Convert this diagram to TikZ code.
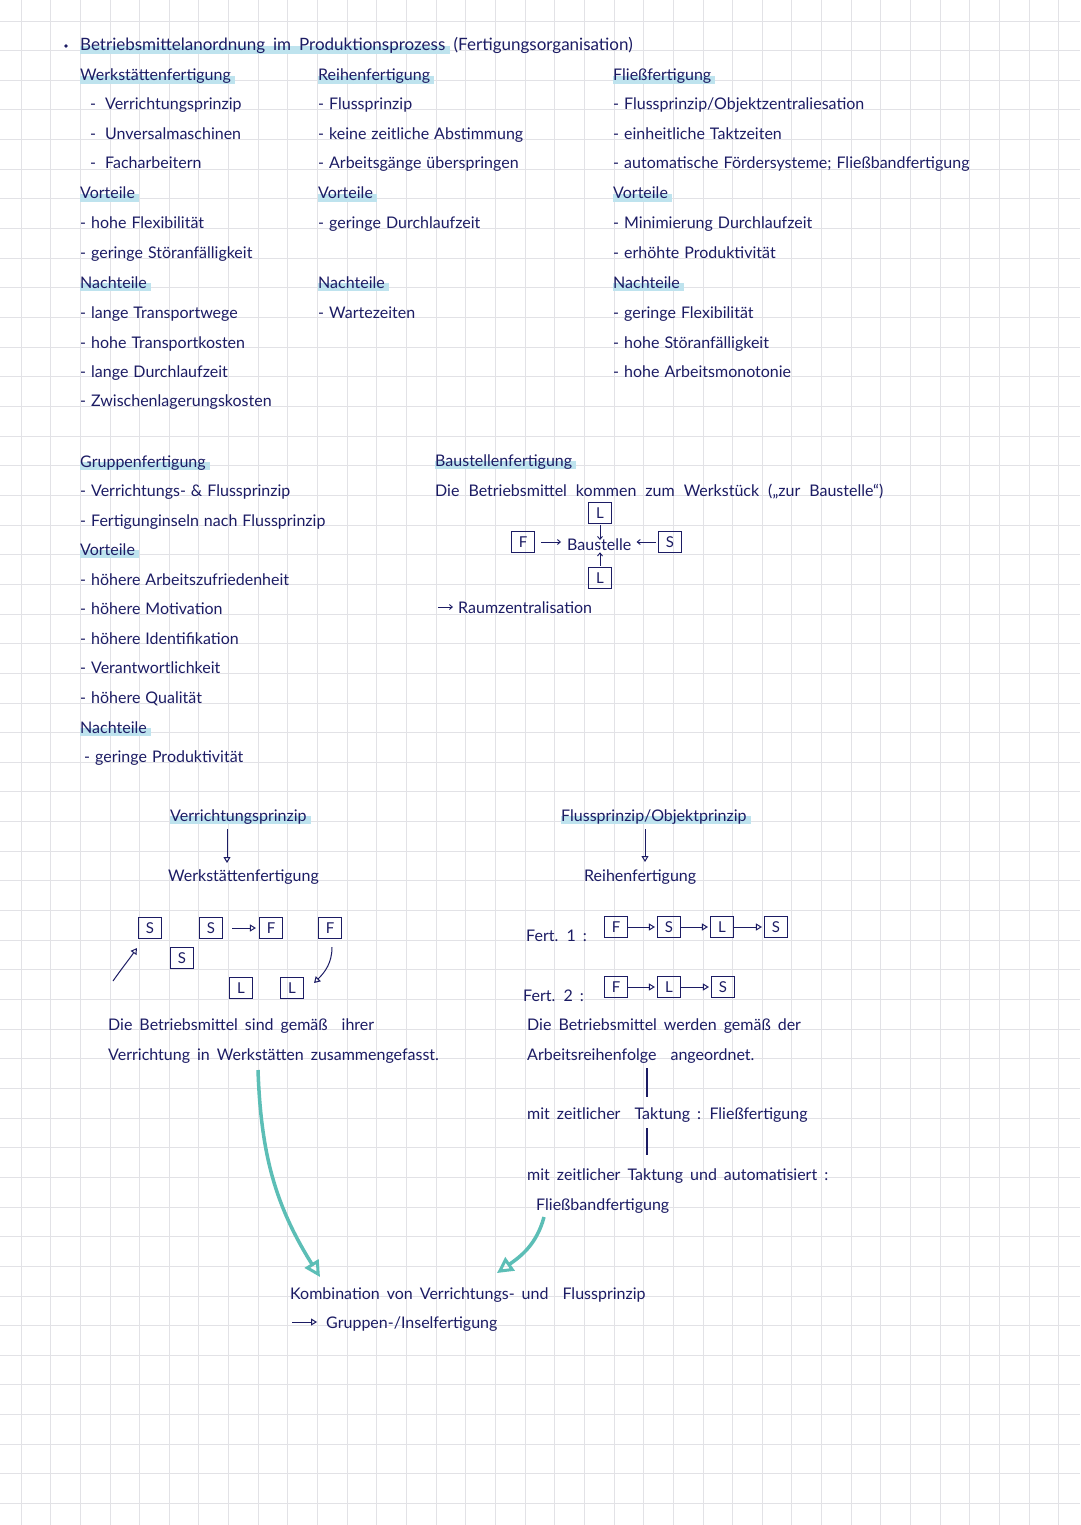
\documentclass[tikz,border=0pt]{standalone}
\usepackage{fontspec}
\setmainfont{Lato}
\usetikzlibrary{arrows.meta,backgrounds}
\definecolor{ink}{RGB}{28,28,100}
\definecolor{gridc}{RGB}{226,226,230}
\definecolor{hlc}{RGB}{190,227,238}
\definecolor{tealc}{RGB}{92,190,182}
\newcommand{\fs}{\fontsize{16}{19}\selectfont\spaceskip=5pt plus 1pt minus 1pt\relax}
\newcommand{\fsd}{\fontsize{16}{19}\selectfont\spaceskip=7pt plus 1pt minus 1pt\relax}
\newcommand{\fst}{\fontsize{17}{20}\selectfont\spaceskip=8pt plus 1pt minus 1pt\relax}
\newcommand{\fsb}{\fontsize{16}{19}\selectfont\spaceskip=9pt plus 1pt minus 1pt\relax}
\newcommand{\hlbar}[1]{\fill[hlc] ([yshift=-3pt]#1.base west) rectangle ([xshift=4pt,yshift=5pt]#1.base east);}
\begin{document}
\begin{tikzpicture}[x=1pt,y=-1pt,
  txt/.style={anchor=base west, inner sep=0pt, text=ink, font=\fs},
  dtxt/.style={anchor=base west, inner sep=0pt, text=ink, font=\fsd},
  mbox/.style={draw=ink, line width=1.1pt, minimum width=23pt, minimum height=21pt, inner sep=0pt, text=ink, font=\fontsize{15}{17}\selectfont},
  flow/.style={draw=ink, line width=1pt, -{Triangle[open, length=6pt, width=7pt]}},
  small/.style={draw=ink, line width=0.9pt, -{Straight Barb[length=3pt,width=5pt]}},
  plain/.style={draw=ink, line width=1.1pt},
  tealarrow/.style={draw=tealc, line width=3.5pt, -{Triangle[open, length=16pt, width=16pt, line width=3pt]}}
]
\useasboundingbox (0,0) rectangle (1080,1525);
\begin{pgfonlayer}{background}
\fill[white] (0,0) rectangle (1080,1525);
\foreach \i in {0,...,35} \draw[gridc, line width=0.9pt] (21+29.65*\i,0) -- (21+29.65*\i,1525);
\foreach \i in {0,...,50} \draw[gridc, line width=0.9pt] (0,21+29.65*\i) -- (1080,21+29.65*\i);
\end{pgfonlayer}

% title
\node[circle, fill=ink, inner sep=1.3pt] (bul) at (66,46) {};
\node[txt, font=\fst] (t1) at (80,51) {Betriebsmittelanordnung im Produktionsprozess};
\node[txt, font=\fst] (t2) at ([xshift=8pt]t1.base east) {(Fertigungsorganisation)};

% column 1
\node[txt] (w0) at (80,81) {Werkstättenfertigung};
\node[txt] (w1) at (90,110) {-\hspace{9pt}Verrichtungsprinzip};
\node[txt] (w2) at (90,140) {-\hspace{9pt}Unversalmaschinen};
\node[txt] (w3) at (90,169) {-\hspace{9pt}Facharbeitern};
\node[txt] (wV) at (80,199) {Vorteile};
\node[txt] (w4) at (80,228) {- hohe Flexibilität};
\node[txt] (w5) at (80,258) {- geringe Störanfälligkeit};
\node[txt] (wN) at (80,288) {Nachteile};
\node[txt] (w6) at (80,318) {- lange Transportwege};
\node[txt] (w7) at (80,348) {- hohe Transportkosten};
\node[txt] (w8) at (80,377) {- lange Durchlaufzeit};
\node[txt] (w9) at (80,406) {- Zwischenlagerungskosten};

% column 2
\node[txt] (r0) at (318,81) {Reihenfertigung};
\node[txt] (r1) at (318,110) {- Flussprinzip};
\node[txt] (r2) at (318,140) {- keine zeitliche Abstimmung};
\node[txt] (r3) at (318,169) {- Arbeitsgänge überspringen};
\node[txt] (rV) at (318,199) {Vorteile};
\node[txt] (r4) at (318,228) {- geringe Durchlaufzeit};
\node[txt] (rN) at (318,288) {Nachteile};
\node[txt] (r5) at (318,318) {- Wartezeiten};

% column 3
\node[txt] (f0) at (613,81) {Fließfertigung};
\node[txt] (f1) at (613,110) {- Flussprinzip/Objektzentraliesation};
\node[txt] (f2) at (613,140) {- einheitliche Taktzeiten};
\node[txt] (f3) at (613,169) {- automatische Fördersysteme; Fließbandfertigung};
\node[txt] (fV) at (613,199) {Vorteile};
\node[txt] (f4) at (613,228) {- Minimierung Durchlaufzeit};
\node[txt] (f5) at (613,258) {- erhöhte Produktivität};
\node[txt] (fN) at (613,288) {Nachteile};
\node[txt] (f6) at (613,318) {- geringe Flexibilität};
\node[txt] (f7) at (613,348) {- hohe Störanfälligkeit};
\node[txt] (f8) at (613,377) {- hohe Arbeitsmonotonie};

% Gruppenfertigung
\node[txt] (g0) at (80,467) {Gruppenfertigung};
\node[txt] (g1) at (80,496) {- Verrichtungs- \& Flussprinzip};
\node[txt] (g2) at (80,526) {- Fertigunginseln nach Flussprinzip};
\node[txt] (gV) at (80,555) {Vorteile};
\node[txt] (g3) at (80,585) {- höhere Arbeitszufriedenheit};
\node[txt] (g4) at (80,614) {- höhere Motivation};
\node[txt] (g5) at (80,644) {- höhere Identifikation};
\node[txt] (g6) at (80,673) {- Verantwortlichkeit};
\node[txt] (g7) at (80,703) {- höhere Qualität};
\node[txt] (gN) at (80,733) {Nachteile};
\node[txt] (g8) at (84,762) {- geringe Produktivität};

% Baustellenfertigung
\node[txt] (b0) at (435,466) {Baustellenfertigung};
\node[txt, font=\fsb] (b1) at (435,496) {Die Betriebsmittel kommen zum Werkstück („zur Baustelle“)};
\node[mbox] (bL1) at (600,513) {L};
\node[mbox] (bF) at (523,542) {F};
\node[txt] (bau) at (567,550) {Baustelle};
\node[mbox] (bS) at (670,542) {S};
\node[mbox] (bL2) at (600,578) {L};
\draw[small, shorten <=6pt, shorten >=6pt] (bF) -- (bau.west |- bF);
\draw[small, shorten <=2pt, shorten >=5pt] (bS) -- (bau.east |- bS);
\draw[small, shorten <=1pt, shorten >=-2pt] (bL1) -- (bau.north -| bL1);
\draw[small, shorten <=1pt, shorten >=2pt] (bL2) -- (bau.south -| bL2);
\node[txt] (b2) at (458,613) {Raumzentralisation};
\coordinate (ra) at (438,607);
\draw[small] (ra) -- ([xshift=-5pt]b2.west |- ra);

% lower left diagram
\node[dtxt] (vp) at (170,821) {Verrichtungsprinzip};
\node[dtxt] (wf) at (168,881) {Werkstättenfertigung};
\coordinate (va) at (227,829);
\coordinate (vb) at (227,863);
\draw[flow] (va) -- (vb);
\node[mbox] (s1) at (150,928) {S};
\node[mbox] (s2) at (211,928) {S};
\node[mbox] (fa) at (271,928) {F};
\node[mbox] (fb) at (330,928) {F};
\node[mbox] (s3) at (182,958) {S};
\node[mbox] (la) at (241,988) {L};
\node[mbox] (lb) at (292,988) {L};
\draw[flow, shorten <=9pt, shorten >=3pt] (s2) -- (fa);
\coordinate (ua) at (113,981);
\draw[flow] (ua) to[out=55, in=-125] ([xshift=-1pt,yshift=-9pt]s1.south west);
\draw[flow] ([xshift=2pt,yshift=-8pt]fb.south) to[out=-90, in=45] ([xshift=10pt,yshift=5pt]lb.east);
\node[dtxt] (d1) at (108,1030) {Die Betriebsmittel sind gemäß\ \ ihrer};
\node[dtxt] (d2) at (108,1060) {Verrichtung in Werkstätten zusammengefasst.};

% lower right diagram
\node[dtxt] (fp) at (561,821) {Flussprinzip/Objektprinzip};
\node[dtxt] (rf) at (584,881) {Reihenfertigung};
\coordinate (fa1) at (645,829);
\coordinate (fb1) at (645,862);
\draw[flow] (fa1) -- (fb1);
\node[dtxt] (k1) at (526,941) {Fert. 1 :};
\node[mbox] (p1) at (616,927) {F};
\node[mbox] (p2) at (669,927) {S};
\node[mbox] (p3) at (722,927) {L};
\node[mbox] (p4) at (776,927) {S};
\draw[flow, shorten >=2pt] (p1) -- (p2);
\draw[flow, shorten >=2pt] (p2) -- (p3);
\draw[flow, shorten >=2pt] (p3) -- (p4);
\node[dtxt] (k2) at (523,1001) {Fert. 2 :};
\node[mbox] (q1) at (616,987) {F};
\node[mbox] (q2) at (669,987) {L};
\node[mbox] (q3) at (723,987) {S};
\draw[flow, shorten >=2pt] (q1) -- (q2);
\draw[flow, shorten >=2pt] (q2) -- (q3);
\node[dtxt] (e1) at (527,1030) {Die Betriebsmittel werden gemäß der};
\node[dtxt] (e2) at (527,1060) {Arbeitsreihenfolge\ \ angeordnet.};
\node[dtxt] (e3) at (527,1119) {mit zeitlicher\ \ Taktung : Fließfertigung};
\node[dtxt] (e4) at (527,1180) {mit zeitlicher Taktung und automatisiert :};
\node[dtxt] (e5) at (536,1210) {Fließbandfertigung};
\coordinate (la1) at (647,1068);
\coordinate (la2) at (647,1097);
\coordinate (lc1) at (647,1128);
\coordinate (lc2) at (647,1155);
\draw[plain] (la1) -- (la2);
\draw[plain] (lc1) -- (lc2);

% combination
\node[dtxt] (c1) at (290,1299) {Kombination von Verrichtungs- und\ \ Flussprinzip};
\node[dtxt] (c2) at (326,1328) {Gruppen-/Inselfertigung};
\coordinate (ca) at (292,1322);
\draw[flow] (ca) -- ([xshift=-9pt]c2.west |- ca);
\coordinate (ts1) at (258,1070);
\coordinate (ts2) at (320,1277);
\coordinate (tr1) at (544,1217);
\coordinate (tr2) at (497,1273);
\draw[tealarrow] (ts1) to[out=-88, in=122] (ts2);
\draw[tealarrow] (tr1) to[out=-105, in=35] (tr2);

\begin{pgfonlayer}{background}
\foreach \n in {t1,w0,wV,wN,r0,rV,rN,f0,fV,fN,g0,gV,gN,b0,vp,fp} {\hlbar{\n}}
\end{pgfonlayer}
\end{tikzpicture}
\end{document}
